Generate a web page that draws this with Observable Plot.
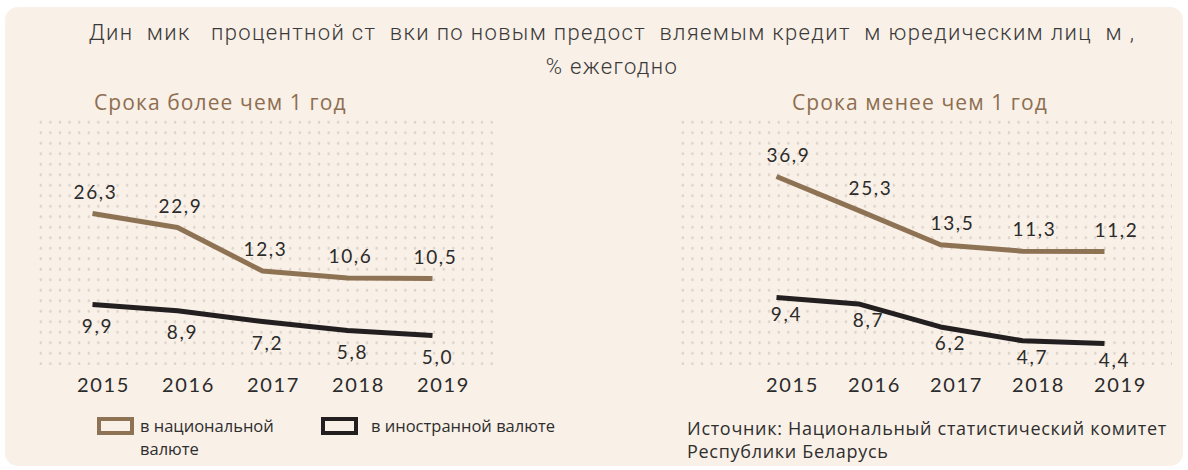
<!DOCTYPE html>
<html>
<head>
<meta charset="utf-8">
<script src="https://cdn.jsdelivr.net/npm/d3@7"></script>
<script src="https://cdn.jsdelivr.net/npm/@observablehq/plot@0.6"></script>
<style>
  html, body { margin: 0; padding: 0; background: #ffffff; }
  #page { position: relative; width: 1188px; height: 470px; overflow: hidden; }
  #card { position: absolute; left: 5px; top: 7px; width: 1178px; height: 459px; border-radius: 13px; background: #f9f0e7; }
  #title { position: absolute; left: 36px; width: 1152px; top: 16px; text-align: center;
           font-family: Roboto, sans-serif; font-weight: 300; font-size: 22px; line-height: 34px;
           color: #3a3a3a; white-space: pre; letter-spacing: 1.35px; }
  .sub { position: absolute; top: 88px; font-family: "Open Sans", sans-serif; font-size: 21px;
         color: #8d6e50; letter-spacing: 1.1px; white-space: nowrap; }
  .dots { position: absolute; top: 117px; height: 248px;
          background-image: radial-gradient(circle at center, #ddd5cc 0, #ddd5cc 1.1px, rgba(0,0,0,0) 1.6px);
          background-size: 9.6px 10.5px; }
  .plot { position: absolute; top: 140px; }
  .leg { position: absolute; font-family: "Open Sans", sans-serif; font-size: 16.5px; color: #2e2e2e; line-height: 23px; }
  .box { position: absolute; width: 29px; height: 10px; border: 4px solid; background: #f9f0e7; }
  #source { position: absolute; left: 687px; top: 417px; font-family: "Open Sans", sans-serif; font-size: 18px;
            line-height: 23px; color: #2e2e2e; white-space: nowrap; letter-spacing: 0.7px; }
</style>
</head>
<body>
<div id="page">
  <div id="card"></div>
  <div id="title">Дин  мик   процентной ст  вки по новым предост  вляемым кредит  м юредическим лиц  м ,
% ежегодно</div>
  <div class="sub" style="left:94px">Срока более чем 1 год</div>
  <div class="sub" style="left:792px">Срока менее чем 1 год</div>
  <div class="dots" style="left:36px; width:462px"></div>
  <div class="dots" style="left:678px; width:494px"></div>
  <div id="left" class="plot" style="left:0px"></div>
  <div id="right" class="plot" style="left:594px"></div>
  <div class="box" style="left:97px; top:417px; border-color:#8e7254"></div>
  <div class="leg" style="left:140px; top:414px">в национальной<br>валюте</div>
  <div class="box" style="left:321px; top:417px; border-color:#231f20"></div>
  <div class="leg" style="left:371px; top:414px">в иностранной валюте</div>
  <div id="source">Источник: Национальный статистический комитет<br>Республики Беларусь</div>
</div>
<script>
// ---- data ----
const years = [2015, 2016, 2017, 2018, 2019];
const seriesNames = ["в национальной валюте", "в иностранной валюте"];
const longNational = [26.3, 22.9, 12.3, 10.6, 10.5];   // Срока более чем 1 год
const longForeign  = [9.9, 8.9, 7.2, 5.8, 5.0];
const shortNational = [36.9, 25.3, 13.5, 11.3, 11.2];  // Срока менее чем 1 год
const shortForeign  = [9.4, 8.7, 6.2, 4.7, 4.4];

const colors = {national: "#8e7254", foreign: "#231f20"};
const fmt = v => v.toFixed(1).replace(".", ",");
const W = 594, H = 270;

function seriesPlot(values, color, opt) {
  const data = years.map((year, i) => ({year, value: values[i]}));
  const marks = [
    Plot.line(data, {x: "year", y: "value", stroke: color, strokeWidth: 5,
                     strokeLinecap: "butt", strokeLinejoin: "round"}),
    Plot.text(data, {x: "year", y: "value", text: d => fmt(d.value),
                     dx: opt.labelDx, dy: opt.labelDy, fill: "#2b2b2b", fontSize: 19})
  ];
  if (opt.axis) {
    marks.push(Plot.axisX(years, {tickSize: 0, tickPadding: 5, tickFormat: d => String(d),
                                  fontSize: 20, dx: opt.axisDx, fill: "#2b2b2b", label: null}));
  }
  return Plot.plot({
    width: W, height: H,
    marginTop: 0, marginLeft: 0, marginRight: 0, marginBottom: 38,
    x: {type: "linear", domain: [2015, 2019], range: opt.xRange, axis: null, label: null},
    y: {type: "linear", domain: opt.yDomain, range: opt.yRange, axis: null, label: null},
    style: {background: "transparent", fontFamily: "Lato, sans-serif", letterSpacing: "1.7px",
            color: "#2b2b2b", overflow: "visible", position: "absolute", left: 0, top: 0},
    marks
  });
}

function panel(id, national, foreign, cfg) {
  const el = document.getElementById(id);
  el.style.width = W + "px";
  el.style.height = H + "px";
  el.append(seriesPlot(national, colors.national, {
    xRange: cfg.xRange, yDomain: [d3.min(national), d3.max(national)], yRange: cfg.natRange,
    labelDx: cfg.natDx, labelDy: -21, axis: false}));
  el.append(seriesPlot(foreign, colors.foreign, {
    xRange: cfg.xRange, yDomain: [d3.min(foreign), d3.max(foreign)], yRange: cfg.forRange,
    labelDx: cfg.forDx, labelDy: cfg.forDy, axis: true, axisDx: cfg.axisDx}));
}

// local coordinates: page y - 140; right panel page x - 594
panel("left", longNational, longForeign,
  {xRange: [92, 432], natRange: [138, 73], forRange: [195, 164], natDx: 3, forDx: 5, forDy: 22, axisDx: 11});
panel("right", shortNational, shortForeign,
  {xRange: [182, 510], natRange: [111, 36], forRange: [203, 157], natDx: 12, forDx: 10, forDy: 17, axisDx: 16});
</script>
</body>
</html>
